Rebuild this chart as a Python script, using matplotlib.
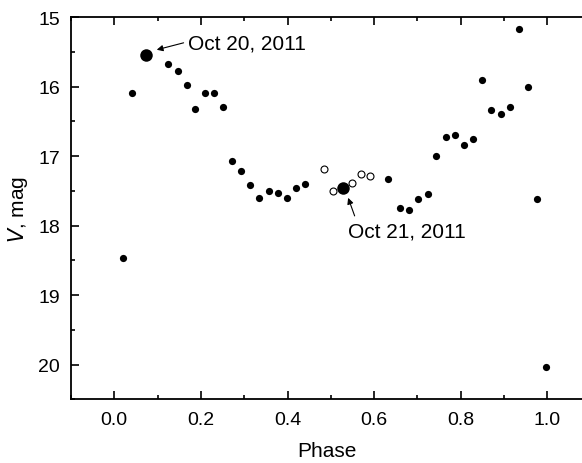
import matplotlib
matplotlib.use("Agg")
import matplotlib.pyplot as plt
from matplotlib.ticker import MultipleLocator

# filled points (phase, V mag)
phase = [0.019, 0.040, 0.124, 0.146, 0.167, 0.187, 0.209, 0.230, 0.251,
         0.272, 0.293, 0.314, 0.335, 0.357, 0.378, 0.399, 0.420, 0.440,
         0.632, 0.660, 0.681, 0.702, 0.724, 0.744, 0.765, 0.787, 0.807,
         0.829, 0.850, 0.871, 0.892, 0.913, 0.934, 0.955, 0.976, 0.996]
vmag = [18.46, 16.09, 15.675, 15.77, 15.98, 16.32, 16.09, 16.09, 16.30,
        17.07, 17.22, 17.42, 17.60, 17.50, 17.53, 17.60, 17.46, 17.40,
        17.33, 17.75, 17.78, 17.62, 17.55, 17.00, 16.73, 16.69, 16.84,
        16.75, 15.90, 16.33, 16.39, 16.29, 15.17, 16.00, 17.61, 20.04]

# open points
phase_open = [0.484, 0.505, 0.549, 0.569, 0.590]
vmag_open = [17.19, 17.50, 17.38, 17.25, 17.28]

# highlighted dates
phase_big = [0.074, 0.528]
vmag_big = [15.55, 17.46]
labels_big = ["Oct 20, 2011", "Oct 21, 2011"]

plt.rcParams['font.family'] = ['Liberation Sans', 'DejaVu Sans']
plt.rcParams['font.size'] = 15

fig = plt.figure(figsize=(5.82, 4.64), dpi=100)
ax = fig.add_axes([0.122, 0.137, 0.878, 0.824])

ax.plot(phase, vmag, 'o', color='black', ms=5.2, mew=0)
ax.plot(phase_open, vmag_open, 'o', mfc='white', mec='black', ms=5, mew=0.8)
ax.plot(phase_big, vmag_big, 'o', color='black', ms=9, mew=0)

arrow = dict(arrowstyle='-|>', color='black', lw=0.8, mutation_scale=9,
             shrinkA=0, shrinkB=0)
ax.annotate('', xy=(0.098, 15.47), xytext=(0.160, 15.37), arrowprops=arrow)
ax.text(0.170, 15.37, labels_big[0], va='center', ha='left')
ax.annotate('', xy=(0.540, 17.60), xytext=(0.555, 17.86), arrowprops=arrow)
ax.text(0.540, 18.07, labels_big[1], va='center', ha='left')

ax.set_xlim(-0.1, 1.08)
ax.set_ylim(20.5, 15)
ax.xaxis.set_major_locator(MultipleLocator(0.2))
ax.xaxis.set_minor_locator(MultipleLocator(0.1))
ax.yaxis.set_major_locator(MultipleLocator(1))
ax.yaxis.set_minor_locator(MultipleLocator(0.5))
ax.xaxis.set_major_formatter(plt.FormatStrFormatter('%.1f'))
ax.tick_params(which='both', direction='in', top=True, right=False, width=1.2,
               labelsize=14)
ax.tick_params(which='major', length=6, pad=8)
ax.tick_params(which='minor', length=3)
ax.spines['right'].set_visible(False)
for s in ['left', 'bottom', 'top']:
    ax.spines[s].set_linewidth(1.3)

ax.set_xlabel('Phase', labelpad=10)
ax.set_ylabel(r'$\mathit{V}$, mag', labelpad=6)

fig.savefig('out.png', dpi=100)
